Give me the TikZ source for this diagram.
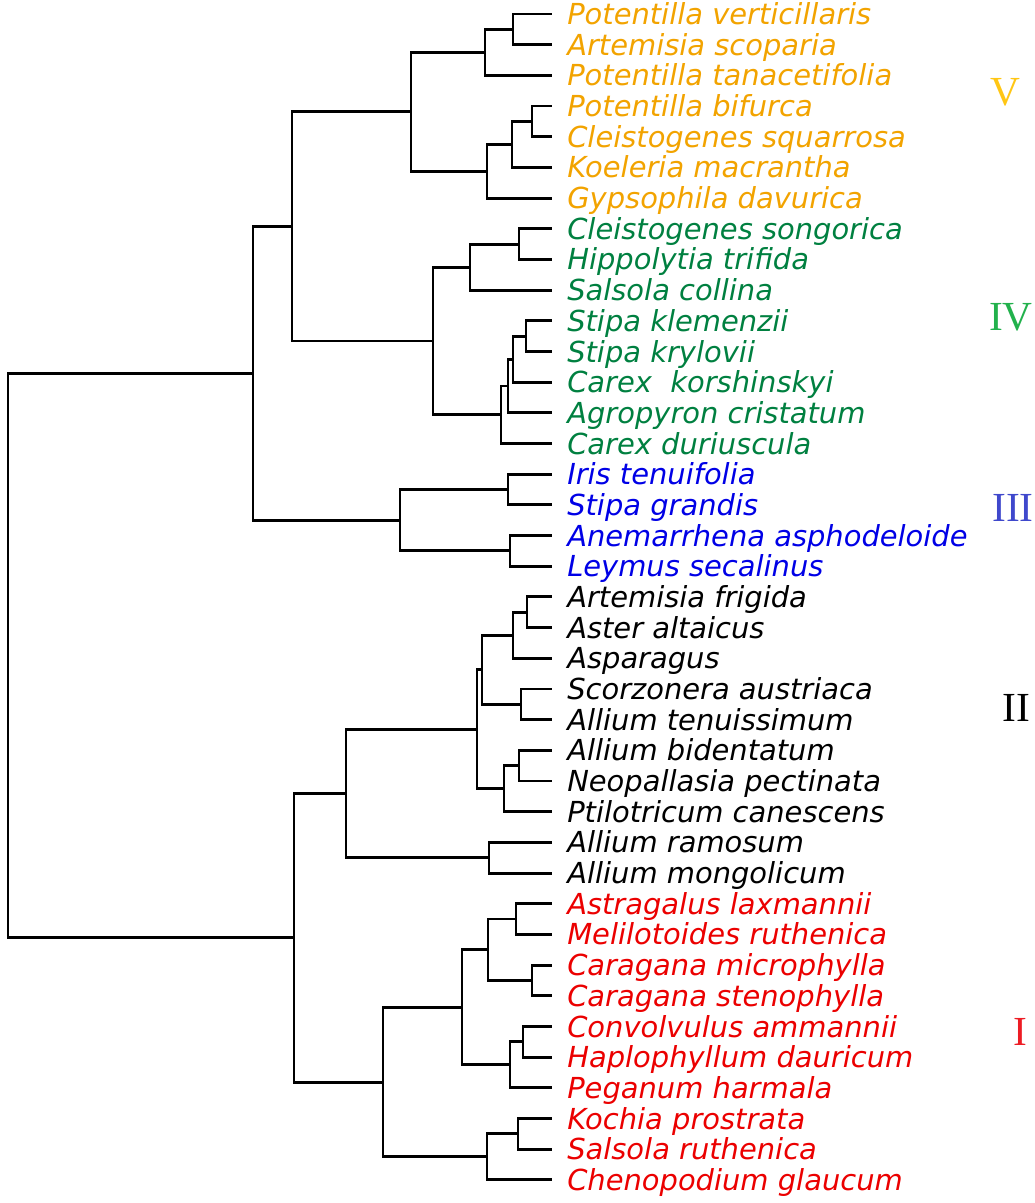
\documentclass[tikz,border=0pt]{standalone}
\usepackage{fontspec}
\newfontfamily\spfont{DejaVu Sans}
\newfontfamily\romfont{Liberation Serif}
\usetikzlibrary{positioning}
\definecolor{vtext}{RGB}{242,163,0}
\definecolor{ivtext}{RGB}{0,128,64}
\definecolor{iiitext}{RGB}{0,0,230}
\definecolor{itext}{RGB}{235,0,0}
\definecolor{vnum}{RGB}{255,198,20}
\definecolor{ivnum}{RGB}{34,177,76}
\definecolor{iiinum}{RGB}{63,72,204}
\definecolor{inum}{RGB}{237,28,36}

\begin{document}
\begin{tikzpicture}[
    x=0.75pt, y=-0.75pt,
    br/.style={draw, line width=2.2pt, line join=miter},
    sp/.style={anchor=west, inner xsep=11.25pt, inner ysep=0pt,
               font=\fontsize{21.7}{21.7}\selectfont\spfont\itshape,
               text height=15.8pt, text depth=0pt},
    grp/.style={inner sep=0pt, font=\fontsize{31}{31}\selectfont\romfont}
  ]
    \useasboundingbox (0,0) rectangle (1035,1203);

    \node[sp, text=vtext] (pver) at (552,14)    {Potentilla verticillaris};
    \node[sp, text=vtext] (asco) at (552,44.7)  {Artemisia scoparia};
    \node[sp, text=vtext] (ptan) at (552,75.4)  {Potentilla tanacetifolia};
    \node[sp, text=vtext] (pbif) at (552,106)   {Potentilla bifurca};
    \node[sp, text=vtext] (csqu) at (552,136.7) {Cleistogenes squarrosa};
    \node[sp, text=vtext] (kmac) at (552,167.4) {Koeleria macrantha};
    \node[sp, text=vtext] (gdav) at (552,198.1) {Gypsophila davurica};

    \node[sp, text=ivtext] (cson) at (552,228.8) {Cleistogenes songorica};
    \node[sp, text=ivtext] (htri) at (552,259.4) {Hippolytia trifida};
    \node[sp, text=ivtext] (scol) at (552,290.1) {Salsola collina};
    \node[sp, text=ivtext] (skle) at (552,320.8) {Stipa klemenzii};
    \node[sp, text=ivtext] (skry) at (552,351.5) {Stipa krylovii};
    \node[sp, text=ivtext] (ckor) at (552,382.2) {Carex~ korshinskyi};
    \node[sp, text=ivtext] (acri) at (552,412.8) {Agropyron cristatum};
    \node[sp, text=ivtext] (cdur) at (552,443.5) {Carex duriuscula};

    \node[sp, text=iiitext] (iten) at (552,474.2) {Iris tenuifolia};
    \node[sp, text=iiitext] (sgra) at (552,504.9) {Stipa grandis};
    \node[sp, text=iiitext] (aasp) at (552,535.6) {Anemarrhena asphodeloide};
    \node[sp, text=iiitext] (lsec) at (552,566.2) {Leymus secalinus};

    \node[sp] (afri) at (552,596.9) {Artemisia frigida};
    \node[sp] (aalt) at (552,627.6) {Aster altaicus};
    \node[sp] (aspa) at (552,658.3) {Asparagus};
    \node[sp] (saus) at (552,689)   {Scorzonera austriaca};
    \node[sp] (aten) at (552,719.7) {Allium tenuissimum};
    \node[sp] (abid) at (552,750.3) {Allium bidentatum};
    \node[sp] (npec) at (552,781)   {Neopallasia pectinata};
    \node[sp] (pcan) at (552,811.7) {Ptilotricum canescens};
    \node[sp] (aram) at (552,842.4) {Allium ramosum};
    \node[sp] (amon) at (552,873.1) {Allium mongolicum};

    \node[sp, text=itext] (alax) at (552,903.7)  {Astragalus laxmannii};
    \node[sp, text=itext] (mrut) at (552,934.4)  {Melilotoides ruthenica};
    \node[sp, text=itext] (cmic) at (552,965.1)  {Caragana microphylla};
    \node[sp, text=itext] (cste) at (552,995.8)  {Caragana stenophylla};
    \node[sp, text=itext] (camm) at (552,1026.5) {Convolvulus ammannii};
    \node[sp, text=itext] (hdau) at (552,1057.2) {Haplophyllum dauricum};
    \node[sp, text=itext] (phar) at (552,1087.8) {Peganum harmala};
    \node[sp, text=itext] (kpro) at (552,1118.5) {Kochia prostrata};
    \node[sp, text=itext] (srut) at (552,1149.2) {Salsola ruthenica};
    \node[sp, text=itext] (cgla) at (552,1179.9) {Chenopodium glaucum};

    \coordinate (v1) at (513,29.3);
    \coordinate (v2) at (485,52.4);
    \coordinate (v3) at (532,121.4);
    \coordinate (v4) at (512,144.4);
    \coordinate (v5) at (487,171.2);
    \coordinate (v6) at (411,111.8);
    \coordinate (iv1) at (519,244.1);
    \coordinate (iv2) at (470,267.1);
    \coordinate (iv3) at (526,336.2);
    \coordinate (iv4) at (513,359.2);
    \coordinate (iv5) at (508,386);
    \coordinate (iv6) at (501,414.8);
    \coordinate (iv7) at (433,341);
    \coordinate (j1) at (292,226.4);
    \coordinate (iii1) at (508,489.6);
    \coordinate (iii2) at (510,550.9);
    \coordinate (iii3) at (400,520.2);
    \coordinate (j2) at (253,373.3);
    \coordinate (ii1) at (527,612.2);
    \coordinate (ii2) at (513,635.3);
    \coordinate (ii3) at (521,704.4);
    \coordinate (ii4) at (482,669.8);
    \coordinate (ii5) at (519,765.7);
    \coordinate (ii6) at (504,788.7);
    \coordinate (ii7) at (477,729.2);
    \coordinate (ii8) at (489,857.7);
    \coordinate (ii9) at (346,793.5);
    \coordinate (i1) at (516,919);
    \coordinate (i2) at (532,980.4);
    \coordinate (i3) at (488,949.7);
    \coordinate (i4) at (523,1041.8);
    \coordinate (i5) at (510,1064.8);
    \coordinate (i6) at (462,1007.3);
    \coordinate (i7) at (518,1133.9);
    \coordinate (i8) at (487,1156.9);
    \coordinate (i9) at (383,1082.1);
    \coordinate (j3) at (294,937.8);
    \coordinate (root) at (8,655.6);

    \draw[br] (v1) |- (pver.west) (v1) |- (asco.west);
    \draw[br] (v2) |- (v1) (v2) |- (ptan.west);
    \draw[br] (v3) |- (pbif.west) (v3) |- (csqu.west);
    \draw[br] (v4) |- (v3) (v4) |- (kmac.west);
    \draw[br] (v5) |- (v4) (v5) |- (gdav.west);
    \draw[br] (v6) |- (v2) (v6) |- (v5);

    \draw[br] (iv1) |- (cson.west) (iv1) |- (htri.west);
    \draw[br] (iv2) |- (iv1) (iv2) |- (scol.west);
    \draw[br] (iv3) |- (skle.west) (iv3) |- (skry.west);
    \draw[br] (iv4) |- (iv3) (iv4) |- (ckor.west);
    \draw[br] (iv5) |- (iv4) (iv5) |- (acri.west);
    \draw[br] (iv6) |- (iv5) (iv6) |- (cdur.west);
    \draw[br] (iv7) |- (iv2) (iv7) |- (iv6);
    \draw[br] (j1) |- (v6) (j1) |- (iv7);

    \draw[br] (iii1) |- (iten.west) (iii1) |- (sgra.west);
    \draw[br] (iii2) |- (aasp.west) (iii2) |- (lsec.west);
    \draw[br] (iii3) |- (iii1) (iii3) |- (iii2);
    \draw[br] (j2) |- (j1) (j2) |- (iii3);

    \draw[br] (ii1) |- (afri.west) (ii1) |- (aalt.west);
    \draw[br] (ii2) |- (ii1) (ii2) |- (aspa.west);
    \draw[br] (ii3) |- (saus.west) (ii3) |- (aten.west);
    \draw[br] (ii4) |- (ii2) (ii4) |- (ii3);
    \draw[br] (ii5) |- (abid.west) (ii5) |- (npec.west);
    \draw[br] (ii6) |- (ii5) (ii6) |- (pcan.west);
    \draw[br] (ii7) |- (ii4) (ii7) |- (ii6);
    \draw[br] (ii8) |- (aram.west) (ii8) |- (amon.west);
    \draw[br] (ii9) |- (ii7) (ii9) |- (ii8);

    \draw[br] (i1) |- (alax.west) (i1) |- (mrut.west);
    \draw[br] (i2) |- (cmic.west) (i2) |- (cste.west);
    \draw[br] (i3) |- (i1) (i3) |- (i2);
    \draw[br] (i4) |- (camm.west) (i4) |- (hdau.west);
    \draw[br] (i5) |- (i4) (i5) |- (phar.west);
    \draw[br] (i6) |- (i3) (i6) |- (i5);
    \draw[br] (i7) |- (kpro.west) (i7) |- (srut.west);
    \draw[br] (i8) |- (i7) (i8) |- (cgla.west);
    \draw[br] (i9) |- (i6) (i9) |- (i8);
    \draw[br] (j3) |- (ii9) (j3) |- (i9);

    \draw[br] (root) |- (j2) (root) |- (j3);

    \node[grp, text=vnum]   (gV)   at (1005,92)   {V};
    \node[grp, text=ivnum]  (gIV)  at (1011,317)  {IV};
    \node[grp, text=iiinum] (gIII) at (1013,508)  {III};
    \node[grp]              (gII)  at (1016,708)  {II};
    \node[grp, text=inum]   (gI)   at (1020,1032) {I};
  \end{tikzpicture}
\end{document}
